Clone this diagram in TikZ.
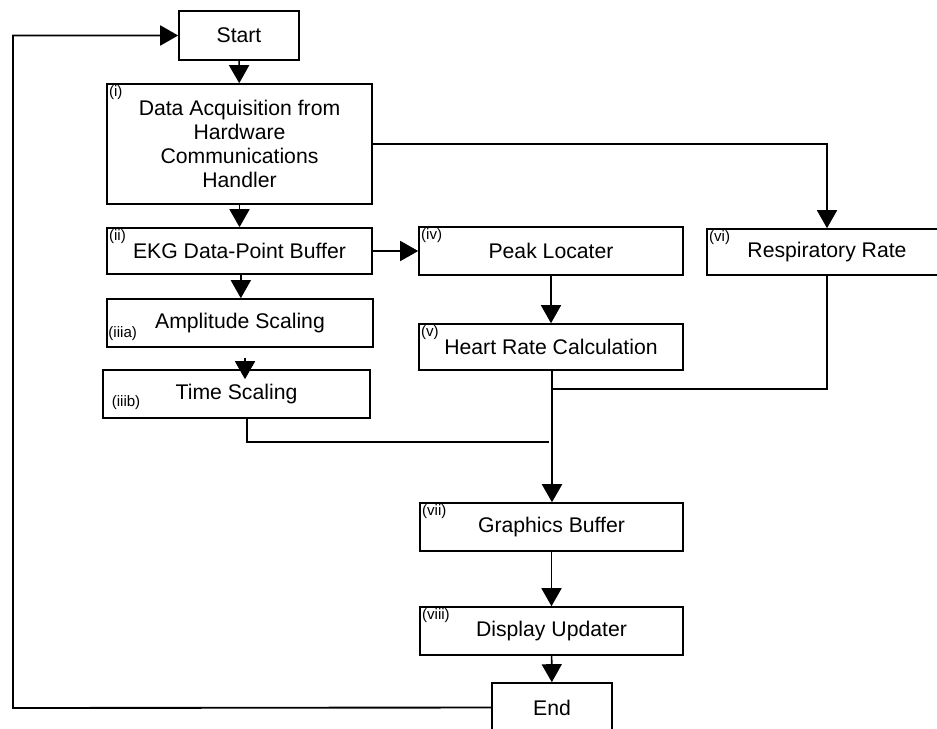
\documentclass[tikz,border=0pt]{standalone}
\usepackage{fontspec}
\setmainfont{Liberation Sans}
\usetikzlibrary{arrows.meta}

% one unit of the picture is one pixel of the 937x728 frame
\def\px{0.75pt}

\tikzset{
  block/.style={draw, line width=1.2pt, rectangle, inner sep=0pt, align=center,
    font=\fontsize{15.9}{18}\selectfont},
  boxsize/.style 2 args={minimum width=#1*\px, minimum height=#2*\px},
  tag/.style={inner sep=0.5pt, font=\fontsize{11.3}{13}\selectfont},
  flow/.style={line width=1.2pt, -{Triangle[length=13.5pt, width=15pt]}},
  mergeline/.style={line width=1.6pt},
}

\begin{document}
\begin{tikzpicture}[x=0.75pt, y=-0.75pt]
\clip (0,0) rectangle (937,728);

% Blocks
\node[block, boxsize={120}{49}] (start) at (239,35.5) {Start};
\node[block, boxsize={265}{120}] (acq) at (239.5,144)
  {Data Acquisition from\\Hardware\\Communications\\Handler};
\node[block, boxsize={265}{46}] (ekg) at (239.5,251) {EKG Data-Point Buffer};
\node[block, boxsize={266}{48}] (amp) at (240,323) {Amplitude Scaling};
\node[block, boxsize={267}{48}] (tscale) at (236.5,394) {Time Scaling};
\node[block, boxsize={264}{48}] (peak) at (551,251) {Peak Locater};
\node[block, boxsize={264}{46}] (hr) at (551,347) {Heart Rate Calculation};
\node[block, boxsize={240}{46}] (resp) at (827,252) {Respiratory Rate};
\node[block, boxsize={263}{48}] (gbuf) at (551.5,527) {Graphics Buffer};
\node[block, boxsize={263}{48}] (disp) at (551.5,631) {Display Updater};
\node[block, boxsize={120}{49}] (end) at (552,707.5) {End};

% Step numbers
\node[tag, anchor=north west] (ti) at ([xshift=1.5pt,yshift=-1pt]acq.north west) {(i)};
\node[tag, anchor=north west] (tii) at ([xshift=1.5pt,yshift=-1pt]ekg.north west) {(ii)};
\node[tag, anchor=west] (tiiia) at ([xshift=1pt,yshift=-8pt]amp.west) {(iiia)};
\node[tag, anchor=west] (tiiib) at ([xshift=6.5pt,yshift=-6.8pt]tscale.west) {(iiib)};
\node[tag, anchor=north west] (tiv) at ([xshift=1.5pt,yshift=-1pt]peak.north west) {(iv)};
\node[tag, anchor=north west] (tv) at ([xshift=1.5pt,yshift=-1pt]hr.north west) {(v)};
\node[tag, anchor=north west] (tvi) at ([xshift=1.5pt,yshift=-1pt]resp.north west) {(vi)};
\node[tag, anchor=north west] (tvii) at ([xshift=1.5pt,yshift=-1pt]gbuf.north west) {(vii)};
\node[tag, anchor=north west] (tviii) at ([xshift=1.5pt,yshift=-1pt]disp.north west) {(viii)};

% Meeting points of the merging lines
\coordinate (jr) at (552,389);
\coordinate (jt) at (549,442);
\coordinate (lp) at (13,708);

% Connectors
\draw[flow] (start) -- (acq);
\draw[flow] (acq) -- (ekg);
\draw[flow] ([xshift=1pt]ekg.south) -- ([xshift=1pt]ekg.south |- amp.north);
\draw[flow] ([xshift=3.75pt,yshift=-7.5pt]amp.south) -- ([xshift=3.75pt,yshift=-7.5pt]amp.south |- tscale.north);
\draw[flow] (ekg) -- (peak);
\draw[flow] (peak) -- (hr);
\draw[flow] (acq.east) -| (resp.north);
\draw[line width=1.2pt] (resp.south) |- (jr);
\draw[line width=1.2pt] ([xshift=0.75pt]hr.south) -- (jr);
\draw[mergeline] ([xshift=7.9pt]tscale.south) |- (jt);
\draw[flow, line width=1.6pt] (jr) -- (jr |- gbuf.north);
\draw[flow] (gbuf) -- (disp);
\draw[flow] (disp) -- (end);
\draw[flow, line width=1.4pt] (end.west) -- (lp) |- (start.west);

\end{tikzpicture}
\end{document}
